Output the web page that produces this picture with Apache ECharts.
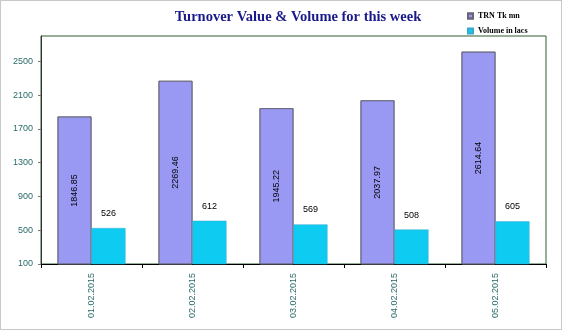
<!DOCTYPE html>
<html><head><meta charset="utf-8">
<script src="https://cdn.jsdelivr.net/npm/echarts@6/dist/echarts.min.js"></script>
<style>html,body{margin:0;padding:0;background:#fff}#c{width:562px;height:330px;box-sizing:border-box;border:1px solid #c8c8c8}</style>
</head><body><div id="c"></div>
<script>
const categories = ['01.02.2015','02.02.2015','03.02.2015','04.02.2015','05.02.2015'];
const trnValues = [1846.85, 2269.46, 1945.22, 2037.97, 2614.64];
const volValues = [526, 612, 569, 508, 605];
const yMin = 100, yMax = 2800, yInterval = 400;

const chart = echarts.init(document.getElementById('c'));
chart.setOption({
  animation: false,
  backgroundColor: '#fff',
  title: {
    text: 'Turnover Value & Volume for this week',
    left: 292, top: 4, textAlign: 'center',
    textStyle: {fontFamily: 'Liberation Serif', fontWeight: 'bold', fontSize: 14.5, color: '#1a1a8a'}
  },
  legend: {
    orient: 'vertical', left: 461, top: 6, itemWidth: 5, itemHeight: 5, itemGap: 7, icon: 'rect',
    textStyle: {fontFamily: 'Liberation Serif', fontWeight: 'bold', fontSize: 8, color: '#000'},
    data: ['TRN Tk mn', 'Volume in lacs']
  },
  grid: {left: 40, right: 15, top: 35, bottom: 65, show: true, borderColor: '#2e5e2e', borderWidth: 1},
  xAxis: {
    type: 'category', data: categories,
    axisLine: {lineStyle: {color: '#000'}},
    axisTick: {show: true, length: 4, lineStyle: {color: '#000'}},
    axisLabel: {rotate: 90, fontFamily: 'Liberation Sans', fontSize: 9, color: '#2a6a6a', margin: 9}
  },
  yAxis: {
    type: 'value', min: yMin, max: yMax, interval: yInterval,
    splitLine: {show: false},
    axisLine: {show: true, lineStyle: {color: '#333'}},
    axisTick: {show: true, length: 3, lineStyle: {color: '#777'}},
    axisLabel: {showMaxLabel: false, formatter: v => String(v), fontFamily: 'Liberation Sans', fontSize: 9, color: '#2a6a6a', margin: 8}
  },
  series: [
    {
      name: 'TRN Tk mn', type: 'bar', data: trnValues, barWidth: 34, barGap: '0%',
      itemStyle: {color: '#9a9af5', borderColor: '#666677', borderWidth: 0.8,
        decal: {symbol: 'rect', symbolSize: 0.4, dashArrayX: [1, 1], dashArrayY: [1, 1], color: 'rgba(120,120,200,0.35)'}},
      label: {show: true, position: 'inside', rotate: 90, fontFamily: 'Liberation Sans', fontSize: 9, color: '#000',
        formatter: p => p.value.toFixed(2)}
    },
    {
      name: 'Volume in lacs', type: 'bar', data: volValues, barWidth: 34,
      itemStyle: {color: '#0ecbf2', borderColor: '#3aaacc', borderWidth: 0.5},
      label: {show: true, position: 'top', distance: 10, fontFamily: 'Liberation Sans', fontSize: 9, color: '#000'}
    }
  ]
});
</script></body></html>
